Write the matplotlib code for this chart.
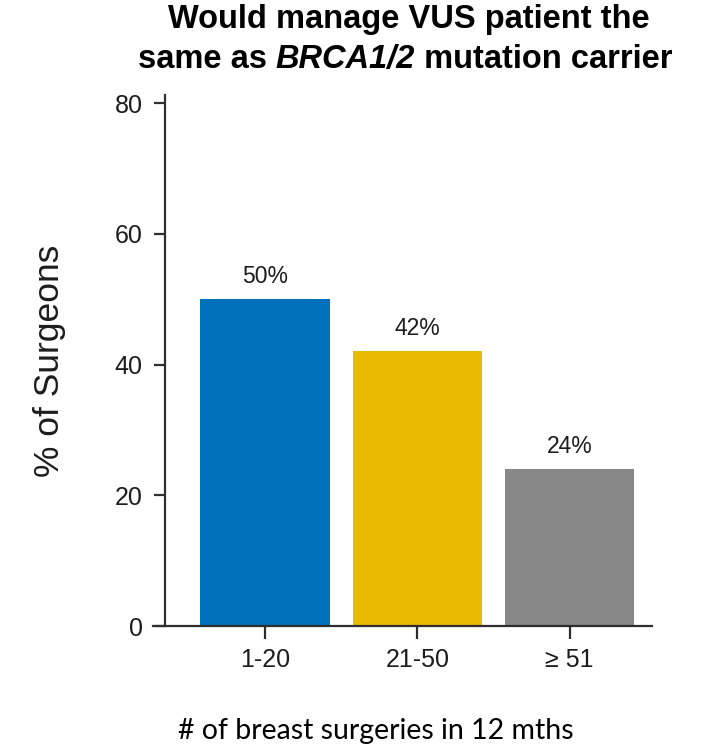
import matplotlib
matplotlib.use("Agg")
import matplotlib.pyplot as plt

# survey results by surgical volume
categories = ["1-20", "21-50", "\u2265 51"]
pct_surgeons = [50, 42, 24]
bar_colors = ["#0072BC", "#E9BA00", "#878787"]

title_line1 = "Would manage VUS patient the"
title_line2 = [("same as ", "normal"), ("BRCA1/2", "italic"), (" mutation carrier", "normal")]
y_label = "% of Surgeons"
x_label = "# of breast surgeries in 12 mths"

W, H, DPI = 703, 746, 100
plt.rcParams["font.family"] = ["Liberation Sans", "DejaVu Sans"]
txt_color = "#1c1c1c"
axis_color = "#2e2e2e"

fig = plt.figure(figsize=(W / DPI, H / DPI), dpi=DPI)
ax = fig.add_axes([153 / W, (H - 626) / H, 499 / W, 536 / H])

x = list(range(len(categories)))
ax.bar(x, pct_surgeons, width=0.85, color=bar_colors, zorder=2)
for xi, v in zip(x, pct_surgeons):
    ax.annotate(f"{v}%", (xi, v), xytext=(0, 8), textcoords="offset points",
                ha="center", va="bottom", fontsize=16.5, color=txt_color)

ax.set_xlim(-0.734, 2.54)
ax.set_ylim(0, 82)
ax.set_yticks([0, 20, 40, 60, 80])
ax.set_xticks(x)
ax.set_xticklabels(categories)

for s in ("top", "right"):
    ax.spines[s].set_visible(False)
ax.spines["left"].set_position(("data", -0.656))
ax.spines["left"].set_bounds(0, 81.3)
for s in ("left", "bottom"):
    ax.spines[s].set_linewidth(1.6)
    ax.spines[s].set_color(axis_color)
    ax.spines[s].set_zorder(3)

ax.tick_params(axis="y", length=8, width=1.6, color=axis_color, pad=8,
               labelsize=18, labelcolor=txt_color)
ax.tick_params(axis="x", length=9, width=1.6, color=axis_color, pad=7,
               labelsize=18, labelcolor=txt_color)

fig.text(50 / W, 1 - 361 / H, y_label, rotation=90, ha="center", va="center",
         fontsize=25.5, color=txt_color)

fig.text(178 / W, 1 - 739 / H, x_label, ha="left", va="baseline",
         fontsize=20.5, color="#000000", family=["Lato", "DejaVu Sans"])

# two-line bold title, second line mixes upright and italic pieces
fig.text(409 / W, 1 - 28 / H, title_line1, ha="center", va="baseline",
         fontsize=23.5, fontweight="bold", color="#000000")

renderer = fig.canvas.get_renderer()
pieces = []
for s, style in title_line2:
    t = fig.text(0, 1 - 68 / H, s, ha="left", va="baseline", fontsize=23.5,
                 fontweight="bold", fontstyle=style, color="#000000")
    pieces.append(t)
widths = [t.get_window_extent(renderer).width for t in pieces]
x0 = 405 - sum(widths) / 2
for t, w in zip(pieces, widths):
    t.set_x(x0 / W)
    x0 += w

fig.savefig("out.png", dpi=DPI)
